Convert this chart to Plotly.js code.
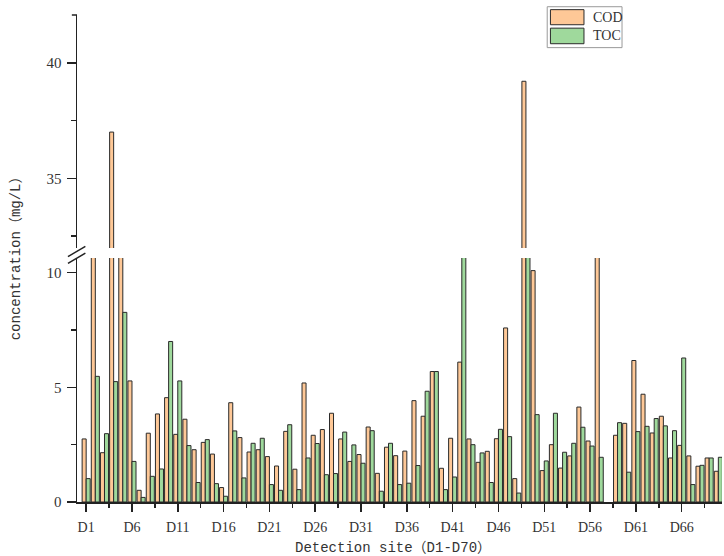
<!DOCTYPE html>
<html>
<head>
<meta charset="utf-8">
<script src="https://cdn.plot.ly/plotly-3.0.1.min.js"></script>
<style>
  html, body { margin: 0; padding: 0; background: #fff; }
  #chart { width: 724px; height: 556px; }
</style>
</head>
<body>
<div id="chart"></div>
<script>
// detection sites D1..D70 (numeric positions, labelled below)
var sites = [];
for (var i = 1; i <= 70; i++) sites.push(i);

var tickSites = [1, 6, 11, 16, 21, 26, 31, 36, 41, 46, 51, 56, 61, 66];
var tickLabels = ["D1", "D6", "D11", "D16", "D21", "D26", "D31", "D36", "D41", "D46", "D51", "D56", "D61", "D66"];

// COD, mg/L (values above the break that are not shown are estimates)
var cod = [
  2.75, 18.6, 2.15, 37.0, 14.2, 5.28, 0.51, 3.00, 3.84, 4.55,
  2.95, 3.61, 2.28, 2.60, 2.09, 0.63, 4.33, 2.81, 2.18, 2.28,
  1.98, 1.57, 3.08, 1.43, 5.19, 2.91, 3.16, 3.87, 2.75, 1.77,
  2.07, 3.27, 1.25, 2.39, 2.02, 2.22, 4.42, 3.74, 5.69, 1.47,
  2.78, 6.10, 2.75, 1.73, 2.21, 2.76, 7.59, 1.02, 39.2, 10.09,
  1.37, 2.50, 1.48, 2.01, 4.14, 2.66, 11.8, null, 2.91, 3.43,
  6.17, 4.70, 3.01, 3.74, 1.92, 2.47, 2.01, 1.56, 1.92, 1.34
];

// TOC, mg/L
var toc = [
  1.02, 5.48, 2.98, 5.25, 8.27, 1.77, 0.20, 1.12, 1.44, 7.00,
  5.28, 2.46, 0.85, 2.72, 0.80, 0.25, 3.10, 1.05, 2.56, 2.78,
  0.76, 0.51, 3.37, 0.54, 1.92, 2.55, 1.19, 1.24, 3.05, 2.49,
  1.69, 3.11, 0.47, 2.56, 0.76, 0.82, 1.59, 4.83, 5.69, 0.54,
  1.09, 12.4, 2.50, 2.14, 0.85, 3.17, 2.85, 0.39, 15.3, 3.81,
  1.79, 3.87, 2.17, 2.56, 3.26, 2.44, 1.95, null, 3.46, 1.30,
  3.07, 3.30, 3.64, 3.32, 3.11, 6.28, 0.76, 1.60, 1.92, 1.95
];

var codColor = "#FEC897";
var tocColor = "#9FD99C";
var edge = { color: "#2a2a2a", width: 1 };

function barTrace(name, vals, color, yax) {
  return {
    type: "bar", name: name, x: sites, y: vals, yaxis: yax,
    marker: { color: color, line: edge },
    showlegend: false, hoverinfo: "x+y"
  };
}

var data = [
  barTrace("COD", cod, codColor, "y"),
  barTrace("TOC", toc, tocColor, "y"),
  barTrace("COD", cod, codColor, "y2"),
  barTrace("TOC", toc, tocColor, "y2")
];

var tickFont = { family: "Liberation Serif, Times New Roman, serif", size: 15, color: "#333" };
var titleFont = { family: "Liberation Mono, Noto Sans CJK SC, monospace", size: 14, color: "#333" };

var layout = {
  width: 724, height: 556,
  margin: { l: 77, r: 2, t: 15, b: 54 },
  paper_bgcolor: "#fff", plot_bgcolor: "#fff",
  barmode: "group", bargap: 0.12, bargroupgap: 0,
  showlegend: false,
  xaxis: {
    range: [0, 70.4], anchor: "y",
    tickmode: "array", tickvals: tickSites, ticktext: tickLabels,
    ticks: "outside", ticklen: 8, tickwidth: 1.5, tickcolor: "#222",
    minor: { tickmode: "linear", tick0: 1, dtick: 2.5, ticks: "outside", ticklen: 4, tickwidth: 1.5, tickcolor: "#222" },
    showline: true, linecolor: "#222", linewidth: 1.5,
    showgrid: false, zeroline: false,
    tickfont: { family: "Liberation Serif, Times New Roman, serif", size: 14, color: "#333" },
    ticklabelstandoff: 4
  },
  yaxis: {
    domain: [0, 0.501], range: [0, 10.64],
    tickvals: [0, 5, 10],
    ticks: "outside", ticklen: 9, tickwidth: 1.5, tickcolor: "#222",
    minor: { tickmode: "linear", tick0: 0, dtick: 2.5, ticks: "outside", ticklen: 5, tickwidth: 1.5, tickcolor: "#222" },
    showline: true, linecolor: "#222", linewidth: 1.5,
    showgrid: false, zeroline: false,
    tickfont: tickFont, ticklabelstandoff: 2
  },
  yaxis2: {
    domain: [0.5216, 1], range: [31.98, 42.07], anchor: "x",
    tickvals: [35, 40],
    ticks: "outside", ticklen: 9, tickwidth: 1.5, tickcolor: "#222",
    minor: { tickmode: "linear", tick0: 30, dtick: 2.5, ticks: "outside", ticklen: 5, tickwidth: 1.5, tickcolor: "#222" },
    showline: true, linecolor: "#222", linewidth: 1.5,
    showgrid: false, zeroline: false,
    tickfont: tickFont, ticklabelstandoff: 2
  },
  shapes: [
    // axis break marks
    { type: "line", xref: "paper", yref: "paper", x0: -0.014, y0: 0.504, x1: 0.013, y1: 0.525, line: { color: "#222", width: 1.5 } },
    { type: "line", xref: "paper", yref: "paper", x0: -0.014, y0: 0.490, x1: 0.013, y1: 0.511, line: { color: "#222", width: 1.5 } },
    // cap at the top of the y axis
    { type: "line", xref: "paper", yref: "paper", x0: -0.008, y0: 1, x1: 0, y1: 1, line: { color: "#222", width: 1.5 } },
    // legend box
    { type: "rect", xref: "paper", yref: "paper", x0: 0.729, x1: 0.845, y0: 0.933, y1: 1.017, line: { color: "#999", width: 1 }, fillcolor: "rgba(0,0,0,0)" },
    { type: "rect", xref: "paper", yref: "paper", x0: 0.734, x1: 0.786, y0: 0.980, y1: 1.011, line: { color: "#2a2a2a", width: 1 }, fillcolor: codColor },
    { type: "rect", xref: "paper", yref: "paper", x0: 0.734, x1: 0.786, y0: 0.941, y1: 0.973, line: { color: "#2a2a2a", width: 1 }, fillcolor: tocColor }
  ],
  annotations: [
    { text: "COD", xref: "paper", yref: "paper", x: 0.797, y: 0.995, xanchor: "left", yanchor: "middle", showarrow: false,
      font: { family: "Liberation Serif, serif", size: 14, color: "#333" } },
    { text: "TOC", xref: "paper", yref: "paper", x: 0.797, y: 0.957, xanchor: "left", yanchor: "middle", showarrow: false,
      font: { family: "Liberation Serif, serif", size: 14, color: "#333" } },
    { text: "concentration（mg/L）", xref: "paper", yref: "paper", x: -0.095, y: 0.508, textangle: -90,
      xanchor: "center", yanchor: "middle", showarrow: false, font: titleFont },
    { text: "Detection site（D1-D70）", xref: "paper", yref: "paper", x: 0.49, y: -0.095,
      xanchor: "center", yanchor: "middle", showarrow: false, font: titleFont }
  ]
};

Plotly.newPlot("chart", data, layout, { displayModeBar: false, staticPlot: true });
</script>
</body>
</html>
